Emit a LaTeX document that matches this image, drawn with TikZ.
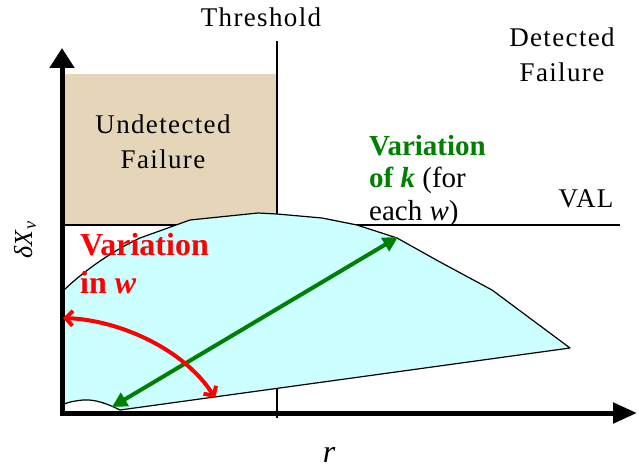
\documentclass[tikz,border=0pt]{standalone}
\usepackage{fontspec}
\setmainfont{Liberation Serif}
\newfontfamily\spacedfont[LetterSpace=5]{Liberation Serif}
\usepackage{tikz}
\usetikzlibrary{arrows.meta,positioning}
\definecolor{sandfill}{RGB}{230,214,185}
\definecolor{icefill}{RGB}{204,255,255}
\definecolor{kgreen}{RGB}{0,128,0}
\definecolor{wred}{RGB}{255,0,0}

\begin{document}
\begin{tikzpicture}[x=1pt,y=-1pt,
  plainlabel/.style={inner sep=0pt,font=\spacedfont\fontsize{27}{35}\selectfont,align=center},
  varlabel/.style={anchor=north west,inner sep=0pt,align=left},
  thinline/.style={line width=2pt,line cap=butt},
  bigarrow/.style={line width=4pt}]
\useasboundingbox (0,0) rectangle (639,470);
\coordinate (o) at (62,413);
\coordinate (ytip) at (62,48);
\coordinate (xtip) at (637,413);
\coordinate (thrT) at (277,41);
\coordinate (thrB) at (277,418);
\coordinate (valL) at (62,225);
\coordinate (valR) at (620,225);
\coordinate (kA) at (112,407);
\coordinate (kB) at (398,237);
\coordinate (wA) at (63,318);
\coordinate (wB) at (215,398);
\draw[thinline] (thrT) -- (thrB);
\draw[thinline] (valL) -- (valR);
\fill[sandfill] (64,74) rectangle (276,224);
\filldraw[fill=icefill,draw=black,line width=1.2pt,line join=round] (62,292) .. controls (80,274) and (110,252) .. (140,238) -- (190,220) -- (258,213) -- (277,214) -- (322,218) -- (357,225) -- (397,238) -- (440,262) -- (492,290) -- (570,348) -- (120,410) .. controls (108,404) and (95,399) .. (83,400) .. controls (74,401) and (68,402) .. (62,405) -- cycle;
\draw[line width=5pt,{Triangle[length=20pt,width=24pt]}-{Triangle[length=24pt,width=20pt]}] (ytip) -- (o) -- (xtip);
\draw[bigarrow,kgreen,{Triangle[length=15pt,width=15pt]}-{Triangle[length=15pt,width=15pt]}] (kA) -- (kB);
\draw[bigarrow,wred,{Straight Barb[length=7pt,width=15pt]}-{Straight Barb[length=7pt,width=15pt]}] (wA) .. controls (120,320) and (185,350) .. (wB);
\node[plainlabel,anchor=base] (threshold) at (261,27) {Threshold};
\node[plainlabel] (detected) at (562,55) {Detected\\Failure};
\node[plainlabel] (undetected) at (163,142) {Undetected\\Failure};
\node[plainlabel,anchor=base] (val) at (586,208) {VAL};
\node[varlabel,text=wred,font=\bfseries\fontsize{32}{38}\selectfont] (wlabel) at (80,233) {Variation\\in \textit{w}};
\node[varlabel,font=\fontsize{29}{32.5}\selectfont] (klabel) at (369,135) {\textcolor{kgreen}{\textbf{Variation}}\\\textcolor{kgreen}{\textbf{of \textit{k}}} (for\\each \textit{w})};
\node[rotate=90,inner sep=0pt,font=\fontsize{26}{30}\selectfont] (ylabel) at (25,240) {\textit{δX}\textsubscript{\textit{v}}};
\node[anchor=base,inner sep=0pt,font=\itshape\fontsize{32}{40}\selectfont] (rlabel) at (329,462) {r};
\end{tikzpicture}
\end{document}
